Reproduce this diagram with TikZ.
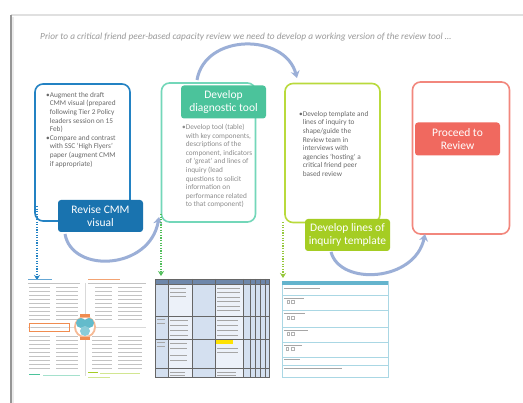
\documentclass[tikz,border=0pt]{standalone}
\usepackage{fontspec}
\setmainfont{Carlito}
\usetikzlibrary{arrows.meta}
\definecolor{cmmblue}{RGB}{35,130,195}
\definecolor{cmmbluefill}{RGB}{25,115,175}
\definecolor{tealline}{RGB}{115,215,185}
\definecolor{tealfill}{RGB}{75,195,155}
\definecolor{limeline}{RGB}{185,218,60}
\definecolor{limefill}{RGB}{165,205,35}
\definecolor{redline}{RGB}{242,135,125}
\definecolor{redfill}{RGB}{240,105,95}
\definecolor{arcblue}{RGB}{155,175,215}
\definecolor{bodytext}{RGB}{105,105,105}
\definecolor{bodytextlight}{RGB}{140,140,140}
\definecolor{framegray}{RGB}{150,150,150}
\definecolor{thumbgray}{RGB}{195,195,195}
\definecolor{tablefill}{RGB}{212,224,240}
\definecolor{tablecell}{RGB}{236,241,249}
\definecolor{tablehead}{RGB}{110,135,170}
\definecolor{formline}{RGB}{170,215,228}
\definecolor{formhead}{RGB}{100,180,205}
\definecolor{cmmorange}{RGB}{240,140,80}
\definecolor{cmmteal}{RGB}{60,170,190}
\definecolor{dotgreen}{RGB}{80,190,90}
\definecolor{dotlime}{RGB}{150,200,60}
\begin{document}
\begin{tikzpicture}[x=1pt,y=-1pt,
  outerbox/.style={draw, line width=1.6pt, rounded corners=8pt, inner sep=0pt},
  labelbox/.style={rounded corners=3pt, text=white, align=center,
    font=\fontsize{11.5}{13.5}\selectfont, inner sep=0pt, minimum width=85pt, minimum height=32pt},
  bodytxt/.style={align=left, anchor=north west, font=\fontsize{7.3}{8.6}\selectfont,
    text=bodytext, inner sep=0pt},
  arcarrow/.style={draw=arcblue, line width=3pt, -{Stealth[length=7pt,width=9pt]}},
  dotarrow/.style={line width=1.3pt, dash pattern=on 1.2pt off 1.4pt, -{Stealth[length=5pt,width=6pt]}},
  tline/.style={draw=thumbgray, line width=0.7pt},
]
\useasboundingbox (0,0) rectangle (523,403);
\fill[white] (0,0) rectangle (523,403);
% page frame
\draw[draw=black!12, line width=1.2pt] (11,15) -- (523,15);
\draw[draw=framegray, line width=1.3pt] (11,15) -- (11,403);
\draw[draw=black!8, line width=1.5pt] (13,17) -- (13,403);

% header
\node[anchor=west, inner sep=0pt, text=black!40, font=\fontsize{9.3}{11}\selectfont\itshape] (header) at (40,37)
  {Prior to a critical friend peer-based capacity review we need to develop a working version of the review tool \dots};

% outer boxes
\node[outerbox, draw=cmmblue, minimum width=95pt, minimum height=137pt] (box1) at (82.5,152.5) {};
\node[outerbox, draw=tealline, minimum width=94pt, minimum height=139pt] (box2) at (208.5,152.5) {};
\node[outerbox, draw=limeline, minimum width=95pt, minimum height=139pt] (box3) at (332.5,153) {};
\node[outerbox, draw=redline, minimum width=97pt, minimum height=152pt] (box4) at (461,158) {};

% body texts
\node[bodytxt] (txt1) at (46,92) {%
  •Augment the draft\\
  \hphantom{•}CMM visual (prepared\\
  \hphantom{•}following Tier 2 Policy\\
  \hphantom{•}leaders session on 15\\
  \hphantom{•}Feb)\\
  •Compare and contrast\\
  \hphantom{•}with SSC ‘High Flyers’\\
  \hphantom{•}paper (augment CMM\\
  \hphantom{•}if appropriate)};
\node[bodytxt, text=bodytextlight] (txt2) at (182,124) {%
  •Develop tool (table)\\
  \hphantom{•}with key components,\\
  \hphantom{•}descriptions of the\\
  \hphantom{•}component, indicators\\
  \hphantom{•}of ‘great’ and lines of\\
  \hphantom{•}inquiry (lead\\
  \hphantom{•}questions to solicit\\
  \hphantom{•}information on\\
  \hphantom{•}performance related\\
  \hphantom{•}to that component)};
\node[bodytxt] (txt3) at (299,111) {%
  •Develop template and\\
  \hphantom{•}lines of inquiry to\\
  \hphantom{•}shape/guide the\\
  \hphantom{•}Review team in\\
  \hphantom{•}interviews with\\
  \hphantom{•}agencies ‘hosting’ a\\
  \hphantom{•}critical friend peer\\
  \hphantom{•}based review};

% label boxes
\node[labelbox, fill=cmmbluefill] (lab1) at (100.5,216) {Revise CMM\\visual};
\node[labelbox, fill=tealfill, minimum height=33pt] (lab2) at (223.5,102) {Develop\\diagnostic tool};
\node[labelbox, fill=limefill] (lab3) at (347.5,235) {Develop lines of\\inquiry template};
\node[labelbox, fill=redfill, minimum height=33pt] (lab4) at (457.5,139) {Proceed to\\Review};

% curved arrows
\coordinate (a1s) at (65,234);
\coordinate (a1e) at (159,217);
\draw[arcarrow] (a1s) .. controls (72,274) and (150,270) .. (a1e);
\coordinate (a2s) at (197,80);
\coordinate (a2e) at (297,78);
\draw[arcarrow] (a2s) .. controls (205,33) and (285,33) .. (a2e);
\coordinate (a3s) at (331,252);
\coordinate (a3e) at (425,234);
\draw[arcarrow] (a3s) .. controls (340,286) and (415,282) .. (a3e);

% thumbnails as nodes (frames)
\node[inner sep=0pt, minimum width=119pt, minimum height=98pt, fill=white] (th1) at (87.5,329) {};
\node[inner sep=0pt, minimum width=114pt, minimum height=98pt, fill=tablefill] (th2) at (212,328) {};
\node[inner sep=0pt, minimum width=106pt, minimum height=96pt, fill=white, draw=formline, line width=0.8pt] (th3) at (335,329) {};

% dotted connectors
\coordinate (d1s) at (37,206);
\coordinate (d1e) at (37,280);
\draw[dotarrow, draw=cmmblue] (d1s) -- (d1e);
\coordinate (d2s) at (161,214);
\coordinate (d2e) at (161,276);
\draw[dotarrow, draw=dotgreen] (d2s) -- (d2e);
\coordinate (d3s) at (283,222);
\coordinate (d3e) at (283,278);
\draw[dotarrow, draw=dotlime] (d3s) -- (d3e);

% ---------- thumbnail 1: CMM visual ----------
\draw[draw=cmmblue!70, line width=1pt] (28,280) -- (52,280);
\draw[draw=cmmorange!80, line width=1pt] (88,280) -- (120,280);
\draw[tline, line width=0.4pt] (28,283) -- (80,283);
\draw[tline, line width=0.4pt] (88,283) -- (146,283);
\draw[draw=black!15, line width=0.4pt] (85,283) -- (85,376);
\draw[draw=black!15, line width=0.4pt] (28,327) -- (146,327);
\foreach \yy in {287,291,295,299,303,307,311,315,319}{
  \draw[tline] (29,\yy) -- (50,\yy);
  \draw[tline] (56,\yy) -- (78,\yy);
  \draw[tline] (95,\yy) -- (112,\yy);
  \draw[tline] (118,\yy) -- (142,\yy);
}
\foreach \yy in {336,340,344,348,352,356,360,364,368}{
  \draw[tline] (29,\yy) -- (50,\yy);
  \draw[tline] (56,\yy) -- (78,\yy);
  \draw[tline] (92,\yy) -- (112,\yy);
  \draw[tline] (118,\yy) -- (142,\yy);
}
\draw[draw=cmmorange, line width=0.8pt] (29,323) rectangle (69,331);
\draw[tline] (31,327) -- (60,327);
\fill[cmmorange!60] (85,327) circle (11pt);
\fill[white] (85,327) circle (9pt);
\fill[cmmteal!80] (81,323) circle (5pt);
\fill[cmmteal!80] (89,323) circle (5pt);
\fill[cmmteal!60] (85,331) circle (5pt);
\fill[cmmorange] (80,314) rectangle (90,317);
\fill[cmmorange] (80,337) rectangle (90,340);
\draw[draw=tealfill, line width=1pt] (29,375) -- (40,375);
\draw[draw=tealfill!50, line width=0.7pt] (43,375) -- (80,375);
\draw[draw=limefill, line width=1pt] (88,373) -- (98,373);
\draw[draw=limefill!50, line width=0.7pt] (100,373) -- (140,373);
\draw[draw=limefill!50, line width=0.7pt] (88,377) -- (110,377);

% ---------- thumbnail 2: table ----------
\fill[tablecell] (168,284) rectangle (192,377);
\fill[tablecell] (215,284) rectangle (243,377);
\fill[tablehead] (155,279) rectangle (269,284);
\fill[yellow!85!orange] (216,340) rectangle (233,344);
\foreach \xx in {168,192,215,243,250,255,260,265}{
  \draw[draw=black!60, line width=0.6pt] (\xx,279) -- (\xx,377);
}
\foreach \yy in {284,316,339,368}{
  \draw[draw=black!60, line width=0.6pt] (155,\yy) -- (269,\yy);
}
\draw[draw=black!60, line width=0.6pt] (155,279) rectangle (269,377);
\foreach \yy in {288,292,296}{\draw[draw=black!35, line width=0.5pt] (170,\yy) -- (186,\yy);}
\foreach \yy in {288,292,297,301,306,310}{\draw[draw=black!35, line width=0.5pt] (217,\yy) -- (240,\yy);}
\foreach \yy in {320,325,330,335}{\draw[draw=black!35, line width=0.5pt] (170,\yy) -- (188,\yy);
  \draw[draw=black!35, line width=0.5pt] (217,\yy) -- (238,\yy);}
\foreach \yy in {319,323}{\draw[draw=black!35, line width=0.5pt] (157,\yy) -- (165,\yy);}
\foreach \yy in {343,348,355,360}{\draw[draw=black!35, line width=0.5pt] (170,\yy) -- (187,\yy);}
\foreach \yy in {348,352}{\draw[draw=black!35, line width=0.5pt] (217,\yy) -- (238,\yy);}
\foreach \yy in {342,346}{\draw[draw=black!35, line width=0.5pt] (157,\yy) -- (165,\yy);}
\foreach \yy in {372,375}{\draw[draw=black!35, line width=0.5pt] (170,\yy) -- (185,\yy);
  \draw[draw=black!35, line width=0.5pt] (217,\yy) -- (236,\yy);}

% ---------- thumbnail 3: form ----------
\fill[formhead] (282,281) rectangle (388,285);
\foreach \yy in {295,310,327,342,357,365}{
  \draw[draw=formline, line width=0.8pt] (282,\yy) -- (388,\yy);
}
\draw[draw=black!35, line width=0.5pt] (284,288) -- (320,288);
\draw[draw=black!35, line width=0.5pt] (284,298) -- (304,298);
\draw[draw=black!35, line width=0.5pt] (284,313) -- (305,313);
\draw[draw=black!35, line width=0.5pt] (284,330) -- (308,330);
\draw[draw=black!35, line width=0.5pt] (284,345) -- (302,345);
\draw[draw=black!35, line width=0.5pt] (284,359) -- (300,359);
\draw[draw=black!35, line width=0.5pt] (284,368) -- (342,368);
\foreach \yy in {302,318,334}{
  \draw[draw=black!30, line width=0.4pt] (287,\yy-1.5) rectangle (289,\yy+1.5);
  \draw[draw=black!30, line width=0.4pt] (291,\yy-1.5) rectangle (294,\yy+1.5);
}
\draw[draw=black!30, line width=0.4pt] (286,347.5) rectangle (288,350.5);
\draw[draw=black!30, line width=0.4pt] (291,347.5) rectangle (294,350.5);
\end{tikzpicture}
\end{document}
